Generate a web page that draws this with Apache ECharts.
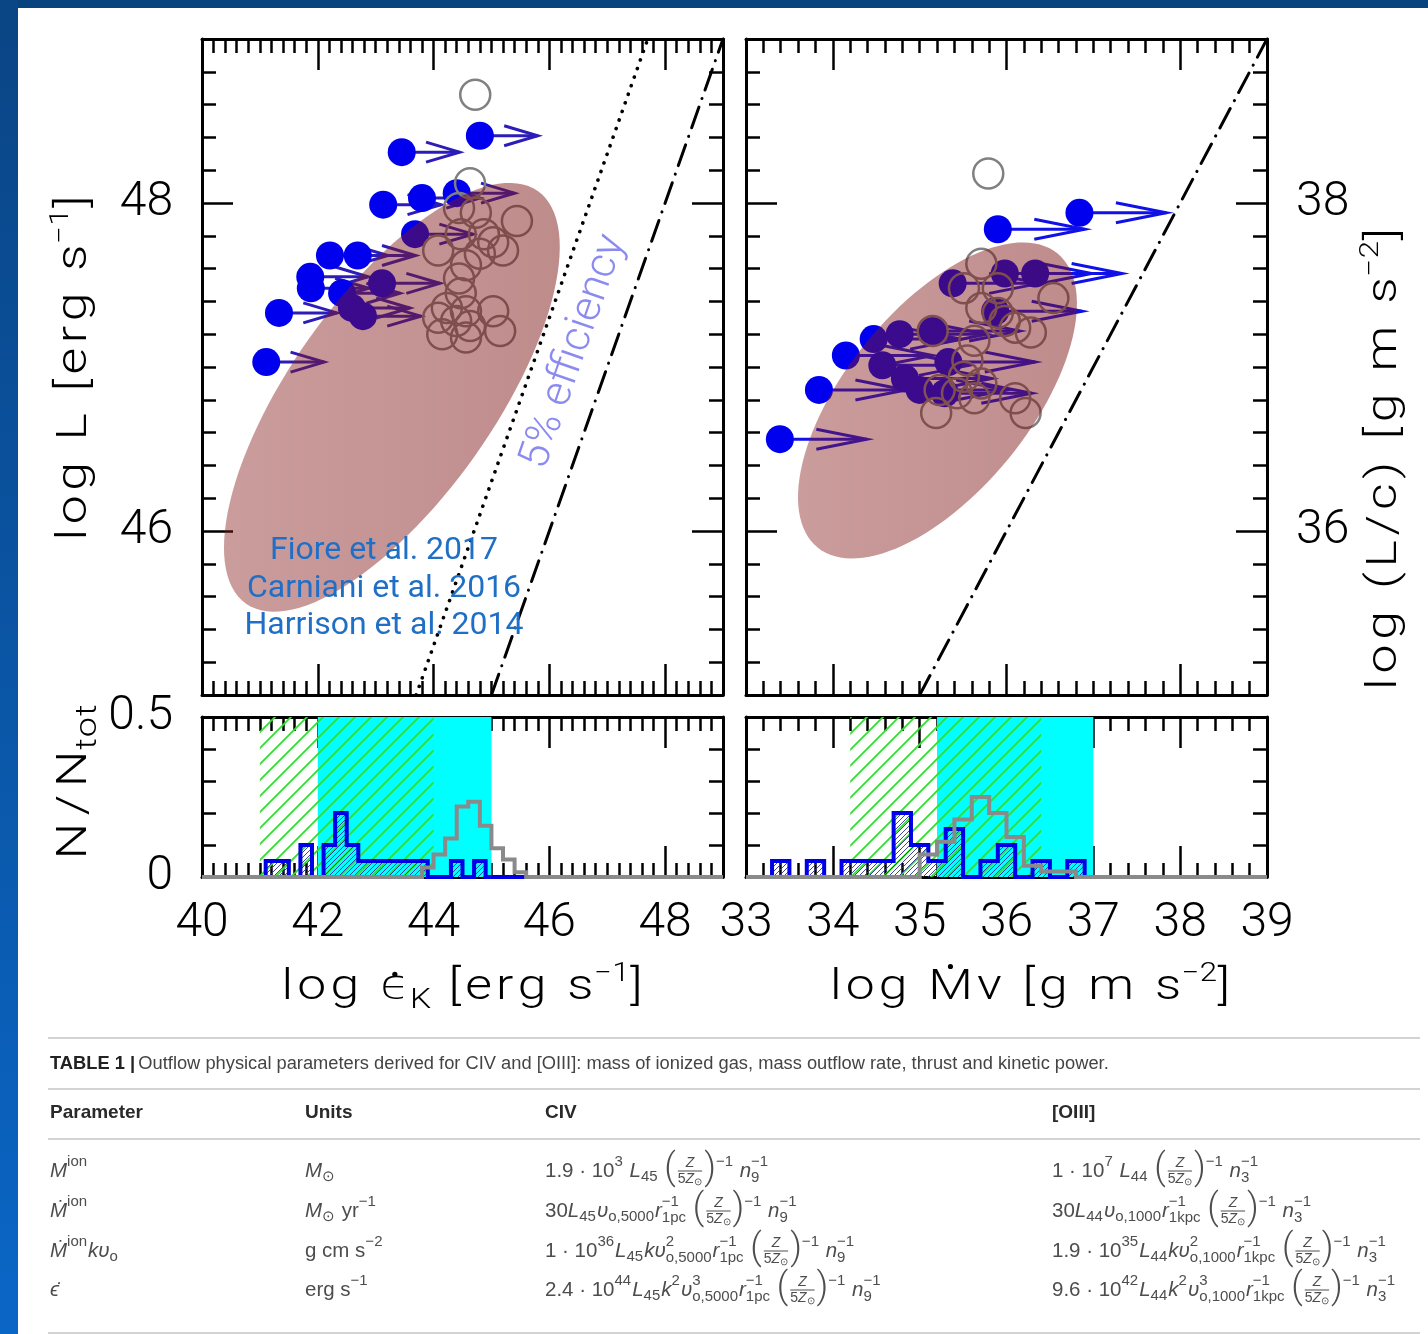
<!DOCTYPE html>
<html>
<head>
<meta charset="utf-8">
<script src="https://cdn.jsdelivr.net/npm/echarts@6/dist/echarts.min.js"></script>
<style>
  html, body { margin: 0; padding: 0; background: #fff; }
  #chart { width: 1428px; height: 1334px; }
</style>
</head>
<body>
<div id="chart"></div>
<script>
// ---------------- data ----------------
const xRangeL = [40, 49], yRangeL = [45, 49]
const xRangeR = [33, 39], yRangeR = [35, 39]
const histRange = [0, 0.5]
const xMajorL = [40, 42, 44, 46, 48]
const xMajorR = [34, 36, 38]
const xMajorHistR = [34, 35, 36, 37, 38]
const xLabelsL = [40, 42, 44, 46, 48]
const xLabelsR = [33, 34, 35, 36, 37, 38, 39]
const yLabelsL = [46, 48]
const yLabelsR = [36, 38]
const histLabels = [0, 0.5]

// lower limits (filled dots + arrows), log eps_K vs log L
const limitsL = [
  [44.80, 48.41], [43.45, 48.31], [43.13, 47.99], [43.80, 48.03], [44.40, 48.06],
  [43.68, 47.81], [42.21, 47.68], [42.69, 47.68], [41.87, 47.55], [41.88, 47.48],
  [42.42, 47.45], [43.11, 47.51], [42.59, 47.36], [42.78, 47.31], [41.33, 47.33],
  [41.11, 47.03]
]
// measured values (open circles)
const openL = [
  [44.72, 48.66], [44.63, 48.12], [44.44, 47.97], [44.73, 47.94], [45.44, 47.89],
  [44.47, 47.81], [44.87, 47.81], [45.03, 47.76], [45.20, 47.71], [44.08, 47.71],
  [44.80, 47.69], [44.56, 47.62], [44.44, 47.54], [44.47, 47.45], [44.23, 47.36],
  [44.56, 47.34], [45.03, 47.34], [44.08, 47.30], [44.39, 47.28], [44.63, 47.25],
  [44.15, 47.20], [45.15, 47.22], [44.56, 47.18]
]
// literature region: centre, two conjugate semi-axes (data units)
const ellipseL = [43.28, 46.815, 2.52, 1.258, 1.436, -0.356]
const eff100L = [[45, 45], [49, 49]]
const eff5L = [[43.7, 45], [47.7, 49]]

// log Mdot v vs log L/c
const limitsR = [
  [33.39, 36.56], [33.84, 36.86], [34.15, 37.07], [34.47, 37.17], [34.77, 37.20],
  [35.15, 37.22], [35.38, 37.51], [35.98, 37.57], [36.33, 37.57], [35.90, 37.84],
  [36.84, 37.94], [34.57, 37.01], [34.83, 36.93], [35.00, 36.86], [35.33, 37.03],
  [35.87, 37.34], [35.29, 36.84]
]
const openR = [
  [35.79, 38.18], [35.71, 37.63], [35.51, 37.48], [35.90, 37.48], [35.71, 37.36],
  [36.54, 37.42], [35.90, 37.33], [35.98, 37.28], [36.10, 37.24], [36.28, 37.21],
  [35.15, 37.22], [35.63, 37.16], [35.55, 37.04], [35.51, 36.94], [35.71, 36.90],
  [35.23, 36.86], [35.43, 36.84], [35.63, 36.81], [35.19, 36.72], [36.10, 36.81],
  [36.22, 36.72]
]
const ellipseR = [35.205, 36.796, 1.380, 0.897, 0.822, -0.352]
const eff100R = [[35, 35], [39, 39]]

// histograms (N/Ntot), bins of 0.2 dex
const binW = 0.2
const blueStartL = 41.1
const blueHL = [0.05, 0.05, 0, 0.10, 0, 0.10, 0.20, 0.10, 0.05, 0.05, 0.05, 0.05, 0.05, 0.05, 0, 0, 0.05, 0, 0.05, 0, 0, 0]
const grayStartL = 43.8
const grayHL = [0.03, 0.07, 0.12, 0.22, 0.235, 0.16, 0.09, 0.055, 0.015]
const blueStartR = 33.3
const blueHR = [0.05, 0, 0.05, 0, 0.05, 0.05, 0.05, 0.20, 0.10, 0.05, 0.15, 0, 0.05, 0.10, 0, 0.05, 0, 0.05, 0, 0, 0, 0, 0, 0]
const grayStartR = 35.0
const grayHR = [0.07, 0.11, 0.18, 0.25, 0.20, 0.125, 0.035, 0.017, 0.017]
const hatchBandL = [[41, 44]]
const cyanBandL = [[42, 45]]
const hatchBandR = [[34.2, 36.4]]
const cyanBandR = [[35.2, 37.0]]

// table
const tableCaption = 'Outflow physical parameters derived for CIV and [OIII]: mass of ionized gas, mass outflow rate, thrust and kinetic power.'
const tableHead = ['Parameter', 'Units', 'CIV', '[OIII]']
const colParam = [['i:M', 'p:ion'], ['i:Ṁ', 'p:ion'], ['i:Ṁ', 'p:ion', 'i:kυ', 'b:o'], ['i:ϵ̇']]
const colUnits = [['i:M', 'b:⊙'], ['i:M', 'b:⊙', 'r: yr', 'p:−1'], ['r:g cm s', 'p:−2'], ['r:erg s', 'p:−1']]
const colCIV = [
  ['r:1.9 · 10', 'p:3', 'r: ', 'i:L', 'b:45', 'r: ', 'F', 'p:−1', 'r: ', 'i:n', 's:−1|9'],
  ['r:30', 'i:L', 'b:45', 'i:υ', 'b:o,5000', 'i:r', 's:−1|1pc', 'r: ', 'F', 'p:−1', 'r: ', 'i:n', 's:−1|9'],
  ['r:1 · 10', 'p:36', 'i:L', 'b:45', 'i:kυ', 's:2|o,5000', 'i:r', 's:−1|1pc', 'r: ', 'F', 'p:−1', 'r: ', 'i:n', 's:−1|9'],
  ['r:2.4 · 10', 'p:44', 'i:L', 'b:45', 'i:k', 'p:2', 'i:υ', 's:3|o,5000', 'i:r', 's:−1|1pc', 'r: ', 'F', 'p:−1', 'r: ', 'i:n', 's:−1|9']
]
const colOIII = [
  ['r:1 · 10', 'p:7', 'r: ', 'i:L', 'b:44', 'r: ', 'F', 'p:−1', 'r: ', 'i:n', 's:−1|3'],
  ['r:30', 'i:L', 'b:44', 'i:υ', 'b:o,1000', 'i:r', 's:−1|1kpc', 'r: ', 'F', 'p:−1', 'r: ', 'i:n', 's:−1|3'],
  ['r:1.9 · 10', 'p:35', 'i:L', 'b:44', 'i:kυ', 's:2|o,1000', 'i:r', 's:−1|1kpc', 'r: ', 'F', 'p:−1', 'r: ', 'i:n', 's:−1|3'],
  ['r:9.6 · 10', 'p:42', 'i:L', 'b:44', 'i:k', 'p:2', 'i:υ', 's:3|o,1000', 'i:r', 's:−1|1kpc', 'r: ', 'F', 'p:−1', 'r: ', 'i:n', 's:−1|3']
]

// ---------------- helpers ----------------
const limitLen = 1   // arrow length, dex
const LF = 'Roboto'

function hatch (size, color, width) {
  const c = document.createElement('canvas')
  c.width = c.height = size
  const g = c.getContext('2d')
  g.strokeStyle = color
  g.lineWidth = width
  g.beginPath()
  g.moveTo(-1, size + 1); g.lineTo(size + 1, -1)
  g.moveTo(-size / 2 - 1, size / 2 + 1); g.lineTo(size / 2 + 1, -size / 2 - 1)
  g.moveTo(size / 2 - 1, size * 1.5 + 1); g.lineTo(size * 1.5 + 1, size / 2 - 1)
  g.stroke()
  return c
}
const greenHatch = { image: hatch(16, '#33dd33', 1.8), repeat: 'repeat' }
const blueHatch = { image: hatch(5, '#30309a', 0.9), repeat: 'repeat' }

function steps (start, h, range) {
  const pts = [[range[0], 0], [start, 0]]
  h.forEach((v, i) => pts.push([start + i * binW, v]))
  pts.push([start + h.length * binW, 0], [range[1], 0])
  return pts
}

const xAxes = [], yAxes = []
function addAxis (list, grid, pos, range, fine, majors, labels, margin) {
  const common = {
    type: 'value', gridIndex: grid, position: pos, min: range[0], max: range[1],
    splitLine: { show: false }, silent: true
  }
  list.push(Object.assign({}, common, {
    interval: fine,
    axisLine: { show: false, onZero: false },
    axisLabel: { show: false },
    axisTick: { show: true, inside: true, length: 14, lineStyle: { color: '#000', width: 2.5 } }
  }))
  list.push(Object.assign({}, common, {
    interval: fine,
    axisLine: { show: true, onZero: false, lineStyle: { color: '#000', width: 3 } },
    axisTick: { show: majors.length > 0, inside: true, length: 31, customValues: majors, lineStyle: { color: '#000', width: 2.5 } },
    axisLabel: labels
      ? { show: true, customValues: labels, margin: margin, fontSize: 48, fontFamily: LF, fontWeight: 300, color: '#000' }
      : { show: false }
  }))
  return list.length - 1
}

const grids = [
  { left: 202, top: 39, width: 521, height: 656 },
  { left: 746, top: 39, width: 521, height: 656 },
  { left: 202, top: 717, width: 521, height: 160 },
  { left: 746, top: 717, width: 521, height: 160 }
]
const ax = []
ax[0] = { x: addAxis(xAxes, 0, 'bottom', xRangeL, 0.2, xMajorL), y: addAxis(yAxes, 0, 'left', yRangeL, 0.2, [46, 48], yLabelsL, 29) }
addAxis(xAxes, 0, 'top', xRangeL, 0.2, xMajorL); addAxis(yAxes, 0, 'right', yRangeL, 0.2, [46, 48])
ax[1] = { x: addAxis(xAxes, 1, 'bottom', xRangeR, 0.2, xMajorR), y: addAxis(yAxes, 1, 'left', yRangeR, 0.2, [36, 38]) }
addAxis(xAxes, 1, 'top', xRangeR, 0.2, xMajorR); addAxis(yAxes, 1, 'right', yRangeR, 0.2, [36, 38], yLabelsR, 29)
ax[2] = { x: addAxis(xAxes, 2, 'bottom', xRangeL, 0.2, xMajorL, xLabelsL, 23), y: addAxis(yAxes, 2, 'left', histRange, 0.1, [], histLabels, 29) }
addAxis(xAxes, 2, 'top', xRangeL, 0.2, xMajorL); addAxis(yAxes, 2, 'right', histRange, 0.1, [])
ax[3] = { x: addAxis(xAxes, 3, 'bottom', xRangeR, 0.2, xMajorHistR, xLabelsR, 23), y: addAxis(yAxes, 3, 'left', histRange, 0.1, []) }
addAxis(xAxes, 3, 'top', xRangeR, 0.2, xMajorHistR); addAxis(yAxes, 3, 'right', histRange, 0.1, [])

function on (g, s) { return Object.assign({ xAxisIndex: ax[g].x, yAxisIndex: ax[g].y, silent: true }, s) }

function arrowSeries (g, data, color) {
  return on(g, {
    type: 'custom', data: data, z: 2,
    renderItem (params, api) {
      const p0 = api.coord([api.value(0), api.value(1)])
      const p1 = api.coord([api.value(0) + limitLen, api.value(1)])
      const hl = (p1[0] - p0[0]) * 0.58
      return {
        type: 'group',
        children: [
          { type: 'line', shape: { x1: p0[0], y1: p0[1], x2: p1[0], y2: p1[1] }, style: { stroke: color, lineWidth: 3 } },
          { type: 'polyline', shape: { points: [[p1[0] - hl, p1[1] - 10], [p1[0], p1[1]], [p1[0] - hl, p1[1] + 10]] }, style: { stroke: color, lineWidth: 3, fill: null } }
        ]
      }
    }
  })
}
function ellipseSeries (g, e) {
  return on(g, {
    type: 'custom', data: [e], z: 5,
    renderItem (params, api) {
      const v = [0, 1, 2, 3, 4, 5].map(i => api.value(i))
      const pts = []
      for (let k = 0; k < 120; k++) {
        const t = 2 * Math.PI * k / 120
        pts.push(api.coord([v[0] + v[2] * Math.cos(t) + v[4] * Math.sin(t), v[1] + v[3] * Math.cos(t) + v[5] * Math.sin(t)]))
      }
      return {
        type: 'polygon', shape: { points: pts },
        style: {
          fill: new echarts.graphic.LinearGradient(0, 0, 1, 0, [
            { offset: 0, color: 'rgba(134,26,26,0.43)' },
            { offset: 1, color: 'rgba(124,20,20,0.49)' }
          ])
        }
      }
    }
  })
}
function dots (g, data) {
  return on(g, { type: 'scatter', data: data, z: 3, symbolSize: 28, itemStyle: { color: '#0000ee', opacity: 1 } })
}
function rings (g, data) {
  return on(g, {
    type: 'scatter', data: data, z: 4, symbolSize: 30,
    itemStyle: { color: 'rgba(0,0,0,0)', borderColor: '#808080', borderWidth: 2.5, opacity: 1 }
  })
}
function effLine (g, data, type, w) {
  return on(g, { type: 'line', data: data, z: 4, symbol: 'none', lineStyle: { color: '#000', width: w, type: type, cap: 'round' } })
}
function band (g, data, fill) {
  return on(g, {
    type: 'custom', data: data, z: 1,
    renderItem (params, api) {
      const p0 = api.coord([api.value(0), histRange[1]])
      const p1 = api.coord([api.value(1), histRange[0]])
      return { type: 'rect', shape: { x: p0[0], y: p0[1], width: p1[0] - p0[0], height: p1[1] - p0[1] }, style: { fill: fill } }
    }
  })
}
function hist (g, data, color, area, z) {
  return on(g, {
    type: 'line', step: 'end', data: data, z: z, symbol: 'none',
    lineStyle: { color: color, width: 4, join: 'miter' },
    areaStyle: area ? { color: area, opacity: 1 } : undefined
  })
}

// ---------------- text helpers ----------------
const meas = document.createElement('canvas').getContext('2d')
function tw (s, font) { meas.font = font; return meas.measureText(s).width }
const graphics = [
  { type: 'rect', silent: true, z: 100, shape: { x: 0, y: 0, width: 1428, height: 8 }, style: { fill: '#08427f' } },
  {
    type: 'rect', silent: true, z: 100, shape: { x: 0, y: 0, width: 18, height: 1334 },
    style: { fill: new echarts.graphic.LinearGradient(0, 0, 0, 1, [{ offset: 0, color: '#0a4585' }, { offset: 1, color: '#0a66c6' }]) }
  }
]

// axis titles: wide, letter-spaced, centred on (cx, cy), spanning 'span' pixels
const stretch = 1.2
function spaced (cx, cy, pieces, span, rot) {
  rot = rot || 0
  const u = [Math.cos(rot), -Math.sin(rot)], dn = [Math.sin(rot), Math.cos(rot)]
  const chars = []
  pieces.forEach(p => {
    Array.from(p[0]).forEach(ch => {
      const font = p[4] || ('300 ' + p[1] + 'px ' + LF)
      chars.push({ ch: ch, font: font, size: p[1], shift: p[2] || 0, dot: !!p[3], w: tw(ch, font) * stretch, main: p[1] >= 40 })
    })
  })
  chars.forEach((c, i) => { const n = chars[i + 1]; c.g = n ? ((c.main && n.main) ? 1 : 0.12) : 0 })
  let natural = 0, wsum = 0
  chars.forEach(c => { natural += c.w; wsum += c.g })
  const gap = (span - natural) / wsum
  let d = -span / 2
  chars.forEach(c => {
    const x = cx + u[0] * d + dn[0] * c.shift, y = cy + u[1] * d + dn[1] * c.shift
    graphics.push({ type: 'text', x: x, y: y, rotation: rot, scaleX: stretch, silent: true, z: 10, style: { text: c.ch, font: c.font, fill: '#000', align: 'left', verticalAlign: 'middle' } })
    if (c.dot) {
      const h = c.ch === 'M' ? -0.5 : -0.32
      graphics.push({ type: 'circle', silent: true, z: 10, shape: { cx: x + u[0] * c.w / 2 + dn[0] * h * c.size, cy: y + u[1] * c.w / 2 + dn[1] * h * c.size, r: 2.6 }, style: { fill: '#000' } })
    }
    d += c.w + gap * c.g
  })
}
const epsFont = '200 40px "DejaVu Sans"'
spaced(462, 988, [['log', 43], [' ', 43], ['ϵ', 43, 0, true, epsFont], ['K', 28, 13], [' ', 43], ['[erg', 43], [' ', 43], ['s', 43], ['−1', 26, -14], [']', 43]], 361)
spaced(1030, 988, [['log', 43], [' ', 43], ['M', 43, 0, true], ['v', 43], [' ', 43], ['[g', 43], [' ', 43], ['m', 43], [' ', 43], ['s', 43], ['−2', 26, -14], [']', 43]], 400)
spaced(75, 368, [['log', 43], [' ', 43], ['L', 43], [' ', 43], ['[erg', 43], [' ', 43], ['s', 43], ['−1', 26, -14], [']', 43]], 345, Math.PI / 2)
spaced(1385, 459, [['log', 43], [' ', 43], ['(L/c)', 43], [' ', 43], ['[g', 43], [' ', 43], ['m', 43], [' ', 43], ['s', 43], ['−2', 26, -14], [']', 43]], 462, Math.PI / 2)
spaced(75, 782, [['N/N', 43], ['tot', 30, 13]], 155, Math.PI / 2)

// panel annotations
const refCol = '#1f6fc6'
const refFont = '32px ' + LF
graphics.push(
  { type: 'text', x: 384, y: 551, z: 10, silent: true, style: { text: 'Fiore et al. 2017', fill: refCol, font: refFont, align: 'center', verticalAlign: 'middle' } },
  { type: 'text', x: 384, y: 589, z: 10, silent: true, style: { text: 'Carniani et al. 2016', fill: refCol, font: refFont, align: 'center', verticalAlign: 'middle' } },
  { type: 'text', x: 384, y: 626, z: 10, silent: true, style: { text: 'Harrison et al. 2014', fill: refCol, font: refFont, align: 'center', verticalAlign: 'middle' } },
  { type: 'text', x: 574, y: 352, z: 10, rotation: 70.9 * Math.PI / 180, silent: true, style: { text: '5% efficiency', fill: '#8a8af0', font: '300 43px ' + LF, align: 'center', verticalAlign: 'middle' } }
)

// table
const TF = '"Liberation Sans"'
const tcol = '#4d4d4d'
function fnt (size, it, bold) { return (it ? 'italic ' : '') + (bold ? 'bold ' : '') + size + 'px ' + TF }
function txt (x, y, s, font, color) {
  return { type: 'text', x: x, y: y, silent: true, style: { text: s, font: font, fill: color || tcol, align: 'left', verticalAlign: 'middle' } }
}
function formula (x, y, toks, out) {
  const M = 20.5, S = 15, FS = 14
  toks.forEach(tok => {
    if (tok === 'F') {
      const pf = '300 36px ' + LF
      out.push(txt(x, y - 1, '(', pf)); x += tw('(', pf) + 2
      const d1 = tw('5', fnt(FS)), d2 = tw('Z', fnt(FS, true)), d3 = tw('⊙', fnt(10))
      const wd = d1 + d2 + d3
      out.push(txt(x + (wd - d2) / 2, y - 8, 'Z', fnt(FS, true)))
      out.push({ type: 'line', silent: true, shape: { x1: x, y1: y, x2: x + wd, y2: y }, style: { stroke: tcol, lineWidth: 1 } })
      out.push(txt(x, y + 8, '5', fnt(FS)))
      out.push(txt(x + d1, y + 8, 'Z', fnt(FS, true)))
      out.push(txt(x + d1 + d2, y + 11, '⊙', fnt(10)))
      x += wd + 2
      out.push(txt(x, y - 1, ')', pf)); x += tw(')', pf)
      return
    }
    const k = tok.slice(0, 1), s = tok.slice(2)
    if (k === 'r' || k === 'i') {
      const f = fnt(M, k === 'i'); out.push(txt(x, y, s, f)); x += tw(s, f)
    } else if (k === 'p') {
      const f = fnt(S); out.push(txt(x, y - 9, s, f)); x += tw(s, f) + 1
    } else if (k === 'b') {
      const f = fnt(S); out.push(txt(x, y + 6, s, f)); x += tw(s, f) + 1
    } else if (k === 's') {
      const [a, b] = s.split('|'); const f = fnt(S)
      out.push(txt(x, y - 9, a, f)); out.push(txt(x, y + 7, b, f))
      x += Math.max(tw(a, f), tw(b, f)) + 1
    }
  })
}
const tl = (y) => ({ type: 'line', silent: true, shape: { x1: 48, y1: y, x2: 1420, y2: y }, style: { stroke: '#c4c4c4', lineWidth: 1.5 } })
graphics.push(tl(1038), tl(1089), tl(1139), tl(1333))
graphics.push({
  type: 'text', x: 50, y: 1064, silent: true,
  style: {
    text: '{b|TABLE 1 |} {r|' + tableCaption + '}', align: 'left', verticalAlign: 'middle',
    rich: { b: { font: fnt(18.3, false, true), fill: '#222' }, r: { font: fnt(18.3), fill: '#444' } }
  }
})
const headX = [50, 305, 545, 1052]
tableHead.forEach((h, i) => graphics.push(txt(headX[i], 1113, h, fnt(19, false, true), '#2a2a2a')))
const rowY = [1171, 1211, 1251, 1290]
rowY.forEach((y, i) => {
  formula(50, y, colParam[i], graphics)
  formula(305, y, colUnits[i], graphics)
  formula(545, y, colCIV[i], graphics)
  formula(1052, y, colOIII[i], graphics)
})

// ---------------- chart ----------------
const chart = echarts.init(document.getElementById('chart'))
chart.setOption({
  animation: false,
  backgroundColor: '#fff',
  grid: grids,
  xAxis: xAxes,
  yAxis: yAxes,
  graphic: graphics,
  series: [
    arrowSeries(0, limitsL, '#2c1cb8'),
    dots(0, limitsL),
    rings(0, openL),
    ellipseSeries(0, ellipseL),
    effLine(0, eff5L, [0.1, 9], 3.6),
    effLine(0, eff100L, [22, 9, 0.1, 9], 3),

    arrowSeries(1, limitsR, '#1010e8'),
    dots(1, limitsR),
    rings(1, openR),
    ellipseSeries(1, ellipseR),
    effLine(1, eff100R, [22, 9, 0.1, 9], 3),

    band(2, cyanBandL, '#00ffff'),
    band(2, hatchBandL, greenHatch),
    hist(2, steps(blueStartL, blueHL, xRangeL), '#0000e6', blueHatch, 2),
    hist(2, steps(grayStartL, grayHL, xRangeL), '#8a8a8a', null, 3),

    band(3, cyanBandR, '#00ffff'),
    band(3, hatchBandR, greenHatch),
    hist(3, steps(blueStartR, blueHR, xRangeR), '#0000e6', blueHatch, 2),
    hist(3, steps(grayStartR, grayHR, xRangeR), '#8a8a8a', null, 3)
  ]
})
window.addEventListener('resize', function () { chart.resize() })
</script>
</body>
</html>
